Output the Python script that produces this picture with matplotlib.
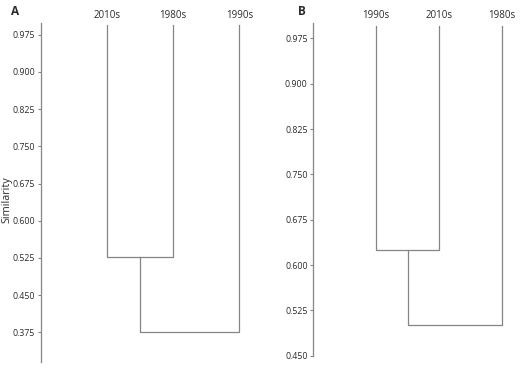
import matplotlib.pyplot as plt

# panel A: leaf order and merge heights (first merge joins leaves 0 and 1, second joins that with leaf 2)
leaves_a = ['2010s', '1980s', '1990s']
heights_a = [0.527, 0.376]
ticks_a = [0.375, 0.450, 0.525, 0.600, 0.675, 0.750, 0.825, 0.900, 0.975]

# panel B
leaves_b = ['1990s', '2010s', '1980s']
heights_b = [0.625, 0.500]
ticks_b = [0.450, 0.525, 0.600, 0.675, 0.750, 0.825, 0.900, 0.975]

LINE = '#858585'
TEXT = '#2b2b2b'
plt.rcParams['font.family'] = ['Open Sans', 'DejaVu Sans']


def draw_dendro(ax, leaves, heights, ticks, ylim, top=0.995):
    # first cluster: leaves 0 and 1
    h1, h2 = heights
    ax.plot([0, 0, 1, 1], [top, h1, h1, top], color=LINE, lw=0.9)
    mid = 0.5
    # second cluster: (0,1) with leaf 2
    ax.plot([mid, mid, 2, 2], [h1, h2, h2, top], color=LINE, lw=0.9)
    for i, lab in enumerate(leaves):
        ax.annotate(lab, (i, ylim[1]), xytext=(0, 1.5), textcoords='offset points',
                    ha='center', va='bottom', fontsize=7, color=TEXT, annotation_clip=False)
    ax.set_xlim(-1, 2.3)
    ax.set_ylim(*ylim)
    ax.set_yticks(ticks)
    ax.set_yticklabels(['%.3f' % t for t in ticks])
    ax.set_xticks([])
    for s in ['top', 'right', 'bottom']:
        ax.spines[s].set_visible(False)
    ax.spines['left'].set_color(LINE)
    ax.spines['left'].set_linewidth(0.9)
    ax.tick_params(axis='y', colors=LINE, labelcolor=TEXT, labelsize=6.3, length=2.5,
                   width=0.8, pad=1.5)


fig = plt.figure(figsize=(5.28, 3.72), dpi=100)
W, H = 528, 372
ax_a = fig.add_axes([40.7 / W, (H - 361.7) / H, 218.5 / W, 339.0 / H])
ax_b = fig.add_axes([313.3 / W, (H - 355.7) / H, 207.4 / W, 332.4 / H])

draw_dendro(ax_a, leaves_a, heights_a, ticks_a, (0.316, 0.999))
draw_dendro(ax_b, leaves_b, heights_b, ticks_b, (0.450, 1.0))

fig.text(15 / W, 1 - 11.7 / H, 'A', fontsize=8.5, fontweight='bold', color=TEXT, ha='center', va='center')
fig.text(301.7 / W, 1 - 11.5 / H, 'B', fontsize=8.5, fontweight='bold', color=TEXT, ha='center', va='center')
fig.text(7 / W, 1 - 200 / H, 'Similarity', fontsize=7.8, rotation=90, color=TEXT, ha='center', va='center')

fig.savefig('out.png', dpi=100)
